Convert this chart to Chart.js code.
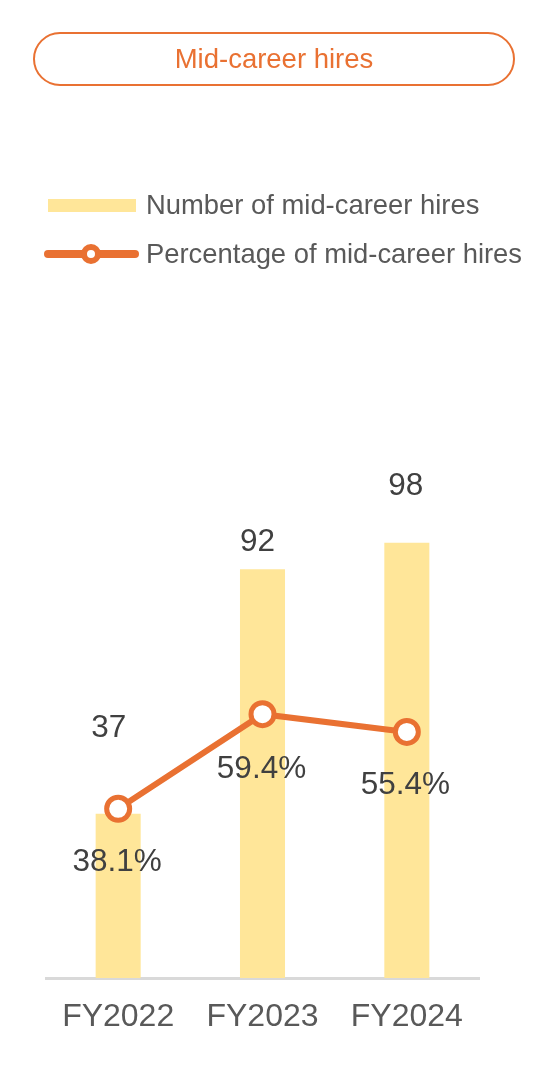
<!DOCTYPE html>
<html>
<head>
<meta charset="utf-8">
<script src="https://cdn.jsdelivr.net/npm/chart.js@4.4.1/dist/chart.umd.min.js"></script>
<style>
  html, body { margin:0; padding:0; background:#fff; }
  body { width:548px; height:1082px; position:relative; overflow:hidden; font-family:"Liberation Sans", Arial, sans-serif; }
  #chart { position:absolute; left:0; top:0; }
  .title { position:absolute; left:33px; top:32px; width:478px; height:50px; border:2.5px solid #E97132; border-radius:27px;
           display:flex; align-items:center; justify-content:center; color:#E97132; font-size:27.5px; }
  .leg { position:absolute; left:0; height:30px; width:548px; }
  .leg .txt { position:absolute; left:146px; top:0; height:30px; line-height:30px; font-size:27.4px; color:#595959; white-space:nowrap; }
  .sw-bar { position:absolute; left:48px; top:9px; width:88px; height:13px; background:#FFE699; }
  .sw-line { position:absolute; left:44px; top:11px; width:95px; height:8px; border-radius:4px; background:#E97132; }
  .sw-dot { position:absolute; left:81px; top:5px; width:8px; height:8px; border:6px solid #E97132; border-radius:50%; background:#fff; }
</style>
</head>
<body>
<canvas id="chart" width="548" height="1082"></canvas>
<div class="title" id="title"></div>
<div class="leg" style="top:190px;"><div class="sw-bar"></div><div class="txt" id="leg0"></div></div>
<div class="leg" style="top:239px;"><div class="sw-line"></div><div class="sw-dot"></div><div class="txt" id="leg1"></div></div>
<script>
const chartTitle = "Mid-career hires";
const categories = ["FY2022", "FY2023", "FY2024"];
const seriesNames = ["Number of mid-career hires", "Percentage of mid-career hires"];
const hiresCount = [37, 92, 98];
const hiresPercent = [38.1, 59.4, 55.4];

document.getElementById('title').textContent = chartTitle;
document.getElementById('leg0').textContent = seriesNames[0];
document.getElementById('leg1').textContent = seriesNames[1];

const ORANGE = '#E97132';
const BAR = '#FFE699';
const FONT = '"Liberation Sans", Arial, sans-serif';

const labelPlugin = {
  id: 'valueLabels',
  afterDatasetsDraw(chart, args, opts) {
    const ctx = chart.ctx;
    ctx.save();
    ctx.font = '31.5px ' + FONT;
    ctx.fillStyle = '#404040';
    ctx.textAlign = 'center';
    ctx.textBaseline = 'middle';
    chart.data.datasets.forEach((ds, di) => {
      const meta = chart.getDatasetMeta(di);
      const offs = opts.offsets[di];
      meta.data.forEach((el, i) => {
        const v = ds.data[i];
        const txt = ds.type === 'line' ? v.toFixed(1) + '%' : String(v);
        ctx.fillText(txt, el.x + offs[i][0], el.y + offs[i][1]);
      });
    });
    ctx.restore();
  }
};

new Chart(document.getElementById('chart'), {
  data: {
    labels: categories,
    datasets: [
      {
        type: 'line',
        label: seriesNames[1],
        data: hiresPercent,
        borderColor: ORANGE,
        borderWidth: 6,
        pointRadius: 11.5,
        pointBorderWidth: 5,
        pointBackgroundColor: '#fff',
        pointBorderColor: ORANGE,
        tension: 0,
        order: 0
      },
      {
        type: 'bar',
        label: seriesNames[0],
        data: hiresCount,
        backgroundColor: BAR,
        barPercentage: 0.312,
        categoryPercentage: 1,
        order: 1
      }
    ]
  },
  options: {
    responsive: false,
    animation: false,
    devicePixelRatio: 1,
    layout: { padding: { left: 46, right: 69, top: 445, bottom: 54 } },
    plugins: {
      legend: { display: false },
      tooltip: { enabled: false },
      valueLabels: {
        offsets: [
          [[-1, 53.5], [-1, 55], [-1.5, 53.5]],
          [[-9.5, -85], [-5, -27.5], [-1, -56.5]]
        ]
      }
    },
    scales: {
      x: {
        z: 1,
        grid: { display: false, drawTicks: false },
        border: { display: true, color: '#D9D9D9', width: 3 },
        ticks: { color: '#595959', font: { family: FONT, size: 32 }, padding: 20 },
        afterFit(scale) { scale.height = 50; }
      },
      y: {
        display: false,
        min: 0,
        max: 120
      }
    }
  },
  plugins: [labelPlugin]
});
</script>
</body>
</html>
